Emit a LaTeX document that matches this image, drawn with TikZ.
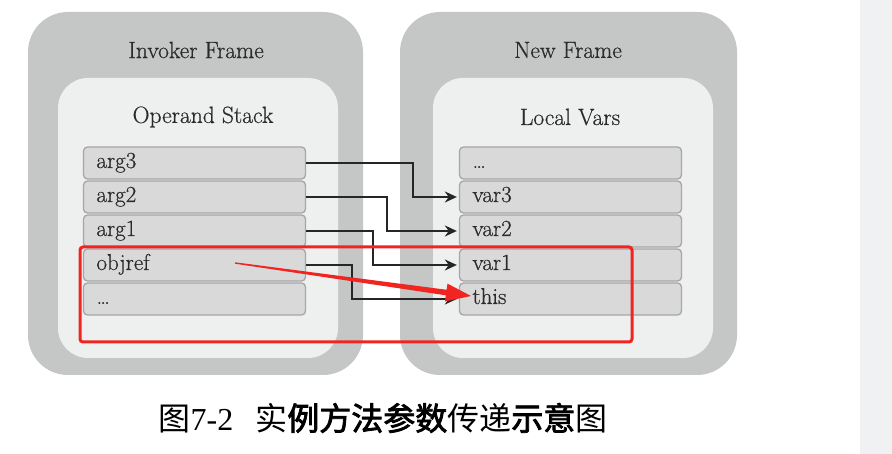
\documentclass[tikz,border=0pt]{standalone}
\usepackage{fontspec}
\newfontfamily\lab[FakeBold=0.6]{Latin Modern Roman}
\newfontfamily\cjk{Noto Sans CJK SC}
\newfontfamily\cjkb[FakeBold=2.5]{Noto Sans CJK SC}
\newfontfamily\capnum{Liberation Serif}
\usetikzlibrary{arrows.meta,calc}
\definecolor{outerg}{HTML}{C5C7C7}
\definecolor{innerg}{HTML}{EEF0EF}
\definecolor{rowg}{HTML}{D9D9D9}
\definecolor{rowb}{HTML}{A6A6A6}
\definecolor{txt}{HTML}{2B2B2B}
\definecolor{redc}{HTML}{F02420}
\definecolor{strip}{HTML}{F0F1F3}
\tikzset{
  outerbox/.style={fill=outerg, rounded corners=40pt},
  innerbox/.style={fill=innerg, rounded corners=30pt},
  title/.style={text=txt, font=\lab\fontsize{23.5}{27}\selectfont},
  rowbox/.style={draw=rowb, line width=1.3pt, fill=rowg, rounded corners=4pt,
    minimum height=32pt, text width=196pt, inner xsep=13pt, align=left,
    text height=15pt, text depth=5pt, text=txt, font=\lab\fontsize{23}{27}\selectfont},
  link/.style={draw=black!85, line width=2pt, -{Stealth[length=12pt,width=11pt]}, shorten >=2pt},
}
\begin{document}
\begin{tikzpicture}[x=1pt,y=-1pt]
\useasboundingbox (0,0) rectangle (892,454);
\fill[white] (0,0) rectangle (892,454);
\fill[strip] (860,0) rectangle (892,454);
% frames
\fill[outerbox] (28,12) rectangle (363,375);
\fill[innerbox] (58,78) rectangle (338,358);
\fill[outerbox] (400,12) rectangle (737,375);
\fill[innerbox] (433,78) rectangle (713,358);
\node[title] (tinv) at (196,50) {Invoker Frame};
\node[title] (tops) at (203,117) {Operand Stack};
\node[title] (tnew) at (568,50) {New Frame};
\node[title] (tloc) at (570,117) {Local Vars};
% left rows
\node[rowbox] (arg3) at (194.5,163) {arg3};
\node[rowbox] (arg2) at (194.5,197) {arg2};
\node[rowbox] (arg1) at (194.5,231) {arg1};
\node[rowbox] (objref) at (194.5,265) {objref};
\node[rowbox] (ldots) at (194.5,299) {\dots};
% right rows
\node[rowbox] (rdots) at (570.5,163) {\dots};
\node[rowbox] (var3) at (570.5,197) {var3};
\node[rowbox] (var2) at (570.5,231) {var2};
\node[rowbox] (var1) at (570.5,265) {var1};
\node[rowbox] (this) at (570.5,299) {this};
% connectors
\draw[link] (arg3.east) -- ++(107,0) |- (var3.west);
\draw[link] (arg2.east) -- ++(81,0) |- (var2.west);
\draw[link] (arg1.east) -- ++(67,0) |- (var1.west);
\draw[link] (objref.east) -- ++(46,0) |- (this.west);
% red highlight
\draw[redc, line width=3pt, rounded corners=3pt] (80,247) rectangle (632,342);
\coordinate (rs) at (235,263);
\coordinate (rt) at (471,296);
\coordinate (rb) at ($(rt)!25pt!(rs)$);
\fill[redc] ($(rs)!0.7pt!90:(rt)$) -- ($(rb)!2.8pt!90:(rt)$) -- ($(rb)!9pt!90:(rt)$) -- (rt)
  -- ($(rb)!9pt!-90:(rt)$) -- ($(rb)!2.8pt!-90:(rt)$) -- ($(rs)!0.7pt!-90:(rt)$) -- cycle;
% caption
\node[text=black, font=\fontsize{32}{36}\selectfont, inner sep=0pt] (cap) at (383,418)
  {\cjk 图\capnum 7-2\hspace{22pt}\cjk 实\cjkb 例方法参数\cjk 传递\cjkb 示意\cjk 图};
\end{tikzpicture}
\end{document}
